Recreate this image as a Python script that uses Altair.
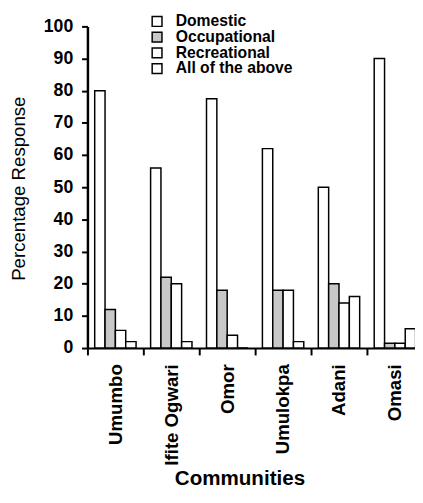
import altair as alt
import pandas as pd

communities = ["Umumbo", "Ifite Ogwari", "Omor", "Umulokpa", "Adani", "Omasi"]
categories = ["Domestic", "Occupational", "Recreational", "All of the above"]
domestic = [80, 56, 77.5, 62, 50, 90]
occupational = [12, 22, 18, 18, 20, 1.5]
recreational = [5.5, 20, 4, 18, 14, 1.5]
all_above = [2, 2, 0, 2, 16, 6]
fill_colors = ["#ffffff", "#c8c8c8", "#ffffff", "#ffffff"]
y_ticks = list(range(0, 101, 10))

rows = []
for cat, vals in zip(categories, [domestic, occupational, recreational, all_above]):
    for c, v in zip(communities, vals):
        rows.append({"Community": c, "Category": cat, "Value": v})
df = pd.DataFrame(rows)

FONT = "Liberation Sans"
range_px = 342
pad_inner = 0.26
step = range_px / len(communities)

chart = alt.Chart(df).mark_bar(stroke="black", strokeWidth=1.5).encode(
    x=alt.X(
        "Community:N",
        sort=communities,
        scale=alt.Scale(domain=communities, range=[0, range_px],
                        paddingInner=pad_inner, paddingOuter=pad_inner / 2),
        axis=alt.Axis(
            title="Communities", labelAngle=270, bandPosition=0,
            tickOffset=-step * pad_inner / 2, labelOffset=step * pad_inner / 2,
            tickSize=7, tickWidth=2, tickColor="black",
            domainWidth=2, domainColor="black",
            labelPadding=9, labelFont=FONT, labelFontSize=19,
            labelFontWeight="bold", labelColor="black",
            titleFont=FONT, titleFontSize=21, titleFontWeight="bold",
            titleColor="black", titleX=155, titleY=139,
            titleAlign="center", titleBaseline="alphabetic",
        ),
    ),
    xOffset=alt.XOffset(
        "Category:N", sort=categories,
        scale=alt.Scale(domain=categories, paddingInner=0, paddingOuter=0),
    ),
    y=alt.Y(
        "Value:Q",
        scale=alt.Scale(domain=[0, 100], nice=False),
        axis=alt.Axis(
            values=y_ticks, title="Percentage Response", grid=False,
            tickSize=6, tickWidth=2, tickColor="black",
            domainWidth=2.5, domainColor="black",
            labelPadding=9, labelFont=FONT, labelFontSize=18,
            labelFontWeight="bold", labelColor="black",
            titleFont=FONT, titleFontSize=19, titleFontWeight="normal",
            titleColor="black", titleX=-60, titleY=165, titleAngle=270,
            titleAlign="center", titleBaseline="bottom",
        ),
    ),
    color=alt.Color(
        "Category:N",
        sort=categories,
        scale=alt.Scale(domain=categories, range=fill_colors),
        legend=alt.Legend(
            title=None, orient="none", legendX=63, legendY=-13,
            symbolType="square", symbolSize=100,
            symbolStrokeColor="black", symbolStrokeWidth=1.5,
            labelFont=FONT, labelFontSize=16, labelFontWeight="bold",
            labelColor="black", labelOffset=11, rowPadding=0, padding=0,
        ),
    ),
).properties(
    width=334,
    height=328,
    autosize=alt.AutoSizeParams(type="none"),
    padding={"left": 81, "top": 14, "right": 0, "bottom": 141},
    background="white",
).configure_view(strokeWidth=0)

chart.save("out.html", embed_options={"renderer": "svg", "actions": False})
